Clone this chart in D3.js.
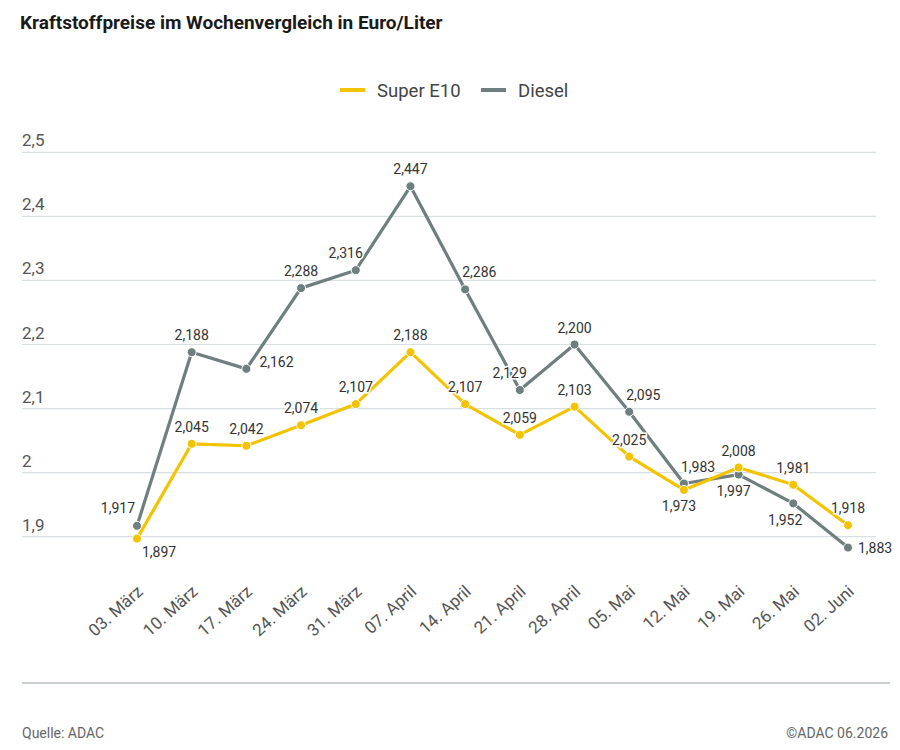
<!DOCTYPE html>
<html><head><meta charset="utf-8">
<script src="https://cdn.jsdelivr.net/npm/d3@7"></script>
<style>
body{margin:0;background:#fff;}
text{font-family:Roboto,"Open Sans",sans-serif;}
</style></head>
<body><svg id="c" width="900" height="750"></svg>
<script>
const categories = ["03. März","10. März","17. März","24. März","31. März","07. April","14. April","21. April","28. April","05. Mai","12. Mai","19. Mai","26. Mai","02. Juni"];
const superE10 = [1.897,2.045,2.042,2.074,2.107,2.188,2.107,2.059,2.103,2.025,1.973,2.008,1.981,1.918];
const diesel   = [1.917,2.188,2.162,2.288,2.316,2.447,2.286,2.129,2.200,2.095,1.983,1.997,1.952,1.883];
const yTicks = [1.9,2.0,2.1,2.2,2.3,2.4,2.5];
const superPlace = ["br","t","t","t","t","t","t","t","t","t","b","t","t","t"];
const dieselPlace = ["tl","t","rt","t","tlc","t","tr","tlc","t","tr","tr","b","bl","r"];

const colors = {super:"#F3C300", diesel:"#6F7F7F"};
const svg = d3.select("#c");
const fmt = v => d3.format(".3f")(v).replace(".", ",");
const yFmt = v => (Math.round(v*10)%10===0 ? d3.format(".0f")(v) : d3.format(".1f")(v)).replace(".", ",");

const x = d3.scalePoint().domain(categories).range([137,848]);
const y = d3.scaleLinear().domain([1.9,2.5]).range([536.7,152.3]);

// title
svg.append("text").attr("x",20).attr("y",29).attr("font-size",19).attr("font-weight",700)
  .attr("fill","#1a1a1a").text("Kraftstoffpreise im Wochenvergleich in Euro/Liter");

// grid
svg.append("g").selectAll("line").data(yTicks).join("line")
  .attr("x1",22).attr("x2",876).attr("y1",d=>y(d)).attr("y2",d=>y(d))
  .attr("stroke","#d6dfe2").attr("stroke-width",1.2);
svg.append("g").selectAll("text").data(yTicks).join("text")
  .attr("x",22).attr("y",d=>y(d)-6).attr("font-size",17).attr("fill","#555")
  .text(yFmt);

// x labels
svg.append("g").selectAll("text").data(categories).join("text")
  .attr("text-anchor","end").attr("font-size",17).attr("fill","#555")
  .attr("transform",d=>`translate(${x(d)+7},${593}) rotate(-42)`)
  .text(d=>d);

// legend
const leg = svg.append("g");
[[340,"Super E10",colors.super],[481,"Diesel",colors.diesel]].forEach(([lx,t,c])=>{
  leg.append("line").attr("x1",lx).attr("x2",lx+25).attr("y1",90).attr("y2",90)
    .attr("stroke",c).attr("stroke-width",4);
  leg.append("text").attr("x",lx+37).attr("y",96.5).attr("font-size",18.5).attr("fill","#444").text(t);
});

const line = d3.line().x((d,i)=>x(categories[i])).y(d=>y(d));
function drawSeries(vals,color,place){
  const g = svg.append("g");
  g.append("path").datum(vals).attr("d",line).attr("fill","none")
    .attr("stroke",color).attr("stroke-width",3.2).attr("stroke-linejoin","round");
  g.selectAll("circle").data(vals).join("circle")
    .attr("cx",(d,i)=>x(categories[i])).attr("cy",d=>y(d)).attr("r",4.5)
    .attr("fill",color).attr("stroke","#fff").attr("stroke-width",1);
  const off = {t:[0,-12,"middle"],b:[-5,21,"middle"],r:[10,5,"start"],rt:[13,-2,"start"],
               tl:[-2,-13,"end"],tlc:[7,-12,"end"],tr:[-3,-12,"start"],bl:[9,22,"end"],br:[5,18,"start"]};
  g.selectAll("text").data(vals).join("text")
    .attr("x",(d,i)=>x(categories[i])+off[place[i]][0])
    .attr("y",(d,i)=>y(d)+off[place[i]][1])
    .attr("text-anchor",(d,i)=>off[place[i]][2])
    .attr("font-size",14).attr("fill","#333")
    .attr("stroke","#fff").attr("stroke-width",3).attr("paint-order","stroke")
    .text(fmt);
}
drawSeries(diesel,colors.diesel,dieselPlace);
drawSeries(superE10,colors.super,superPlace);

// footer
svg.append("line").attr("x1",22).attr("x2",890).attr("y1",683).attr("y2",683)
  .attr("stroke","#c9cfd0").attr("stroke-width",2);
svg.append("text").attr("x",22).attr("y",738).attr("font-size",14).attr("fill","#666").text("Quelle: ADAC");
svg.append("text").attr("x",888).attr("y",738).attr("font-size",14).attr("fill","#666")
  .attr("text-anchor","end").text("©ADAC 06.2026");
</script></body></html>
